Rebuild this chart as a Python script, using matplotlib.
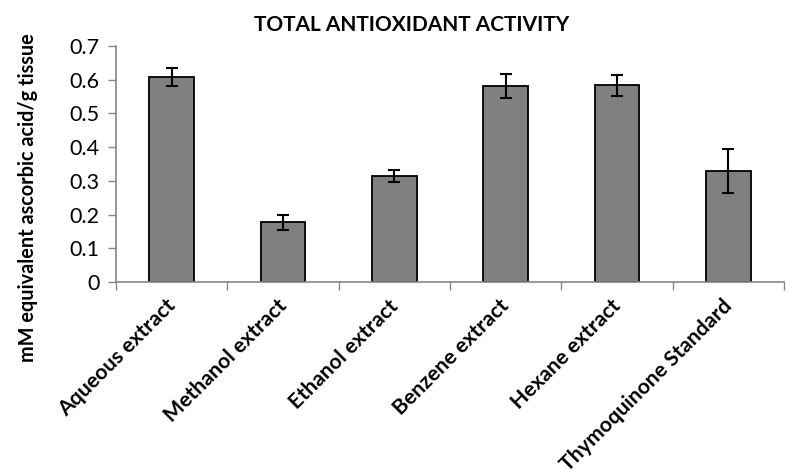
import matplotlib
matplotlib.use("Agg")
import matplotlib.pyplot as plt
import numpy as np

categories = ["Aqueous extract", "Methanol extract", "Ethanol extract",
              "Benzene extract", "Hexane extract", "Thymoquinone Standard"]
values = [0.608, 0.177, 0.314, 0.582, 0.584, 0.330]
errors = [0.028, 0.023, 0.018, 0.035, 0.031, 0.065]
yticks = [0, 0.1, 0.2, 0.3, 0.4, 0.5, 0.6, 0.7]
ytick_labels = ["0", "0.1", "0.2", "0.3", "0.4", "0.5", "0.6", "0.7"]

plt.rcParams['font.family'] = ['Lato', 'DejaVu Sans']

fig = plt.figure(figsize=(7.86, 4.76), dpi=100)
ax = fig.add_axes([0.1476, 0.4076, 0.85, 0.4958])

x = np.arange(len(categories))
ax.bar(x, values, width=0.4, color="#808080", edgecolor="black", linewidth=1.3,
       yerr=errors, capsize=4.5, error_kw=dict(elinewidth=1.5, capthick=1.5, ecolor="black"),
       zorder=2)

ax.set_xlim(-0.5, len(categories) - 0.5)
ax.set_ylim(0, 0.7)
ax.set_yticks(yticks)
ax.set_yticklabels(ytick_labels, fontsize=15.5)

ax.set_xticks(np.arange(len(categories) + 1) - 0.5)
ax.set_xticklabels([])
ax.set_xticks(x - 0.06, minor=True)
ax.set_xticklabels(categories, minor=True, rotation=45, ha="right",
                   rotation_mode="anchor", fontsize=15.3, fontweight="bold")
ax.tick_params(axis="x", which="minor", length=0, pad=10)
ax.tick_params(axis="x", which="major", length=6, color="#868686", width=1)
ax.tick_params(axis="y", length=6, color="#868686", width=1, pad=6)

for s in ["top", "right"]:
    ax.spines[s].set_visible(False)
for s in ["left", "bottom"]:
    ax.spines[s].set_color("#868686")
    ax.spines[s].set_linewidth(1.2)

fig.text(0.524, 0.947, "TOTAL ANTIOXIDANT ACTIVITY", ha="center", va="center",
         fontsize=15, fontweight="bold")
fig.text(0.036, 0.585, "mM equivalent ascorbic acid/g tissue", rotation=90,
         ha="center", va="center", fontsize=14.3, fontweight="bold")

fig.savefig("out.png", dpi=100)
